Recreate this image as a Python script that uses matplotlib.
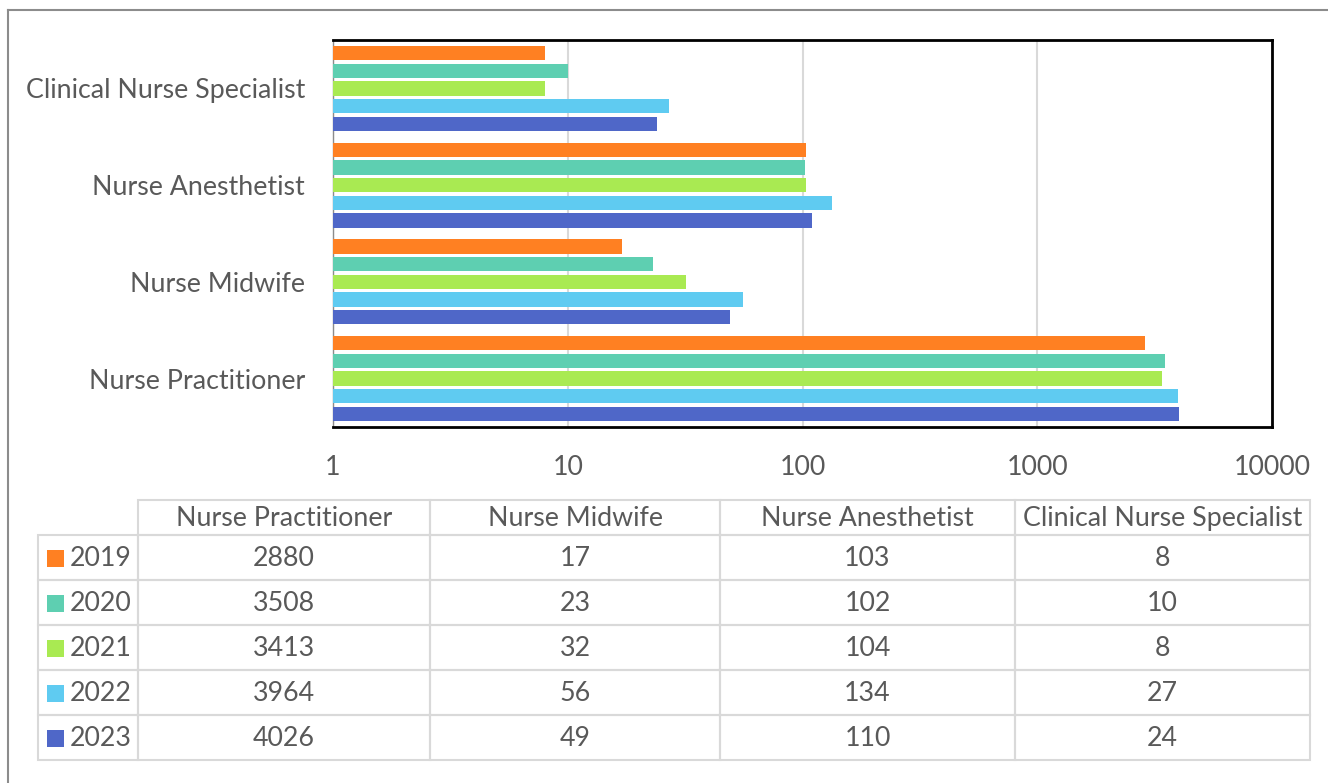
import matplotlib.pyplot as plt
import numpy as np
from matplotlib.patches import Rectangle

plt.rcParams['font.family'] = ['Lato', 'DejaVu Sans']

categories = ['Nurse Practitioner', 'Nurse Midwife', 'Nurse Anesthetist', 'Clinical Nurse Specialist']
years = ['2019', '2020', '2021', '2022', '2023']
v2019 = [2880, 17, 103, 8]
v2020 = [3508, 23, 102, 10]
v2021 = [3413, 32, 104, 8]
v2022 = [3964, 56, 134, 27]
v2023 = [4026, 49, 110, 24]
series = [v2019, v2020, v2021, v2022, v2023]
colors = ['#FF8022', '#5ECFB1', '#A9EA52', '#5FCBF1', '#4F67C8']
xticks = [1, 10, 100, 1000, 10000]

W, H = 1328, 783
fig = plt.figure(figsize=(W / 100, H / 100), dpi=100)
text_color = '#595959'
fs = 19.3

# outer frame
fig.add_artist(plt.Line2D([8 / W, 8 / W], [0, 1 - 10 / H], color='#8c8c8c', lw=1.5))
fig.add_artist(plt.Line2D([8 / W, 1], [1 - 10 / H, 1 - 10 / H], color='#8c8c8c', lw=1.5))

ax = fig.add_axes([333 / W, 1 - 427 / H, (1272 - 333) / W, (427 - 40) / H])
y = np.arange(len(categories))
pitch = 0.183
height = 0.148
for i, vals in enumerate(series):
    ax.barh(y + (2 - i) * pitch, vals, height=height, color=colors[i], zorder=3)
ax.set_xscale('log')
ax.set_xlim(1, 10000)
ax.set_ylim(-0.5, 3.5)
ax.set_xticks(xticks)
ax.set_xticklabels([str(t) for t in xticks])
ax.xaxis.set_minor_locator(plt.NullLocator())
ax.set_yticks(y)
ax.set_yticklabels(categories)
ax.tick_params(axis='x', length=0, pad=20, labelsize=fs, colors=text_color)
ax.tick_params(axis='y', length=0, pad=20, labelsize=fs, colors=text_color)
ax.grid(axis='x', color='#d9d9d9', lw=1.5, zorder=0)
for s in ['top', 'right', 'bottom']:
    ax.spines[s].set_color('black')
    ax.spines[s].set_linewidth(2)
ax.spines['left'].set_color('#8c8c8c')
ax.spines['left'].set_linewidth(1)

# data table
tab = fig.add_axes([0, 0, 1, 1])
tab.set_xlim(0, W)
tab.set_ylim(H, 0)
tab.axis('off')
col_edges = [38, 138, 430, 720, 1015, 1310]
row_edges = [500, 535, 580, 625, 670, 715, 760]
grid_c = '#d9d9d9'
# header cells
for j in range(len(categories)):
    x0, x1 = col_edges[j + 1], col_edges[j + 2]
    tab.add_patch(Rectangle((x0, row_edges[0]), x1 - x0, row_edges[1] - row_edges[0],
                            fill=False, ec=grid_c, lw=1.5))
    tab.text((x0 + x1) / 2, (row_edges[0] + row_edges[1]) / 2 + 1, categories[j],
             ha='center', va='center', fontsize=fs, color=text_color)
for i, yr in enumerate(years):
    y0, y1 = row_edges[i + 1], row_edges[i + 2]
    for j in range(len(categories) + 1):
        x0, x1 = col_edges[j], col_edges[j + 1]
        tab.add_patch(Rectangle((x0, y0), x1 - x0, y1 - y0, fill=False, ec=grid_c, lw=1.5))
    yc = (y0 + y1) / 2 + 1
    tab.add_patch(Rectangle((47, yc - 9), 17, 17, color=colors[i], lw=0))
    tab.text(70, yc, yr, ha='left', va='center', fontsize=fs, color=text_color)
    for j in range(len(categories)):
        x0, x1 = col_edges[j + 1], col_edges[j + 2]
        tab.text((x0 + x1) / 2, yc, str(series[i][j]), ha='center', va='center',
                 fontsize=fs, color=text_color)

fig.savefig('out.png', dpi=100)
